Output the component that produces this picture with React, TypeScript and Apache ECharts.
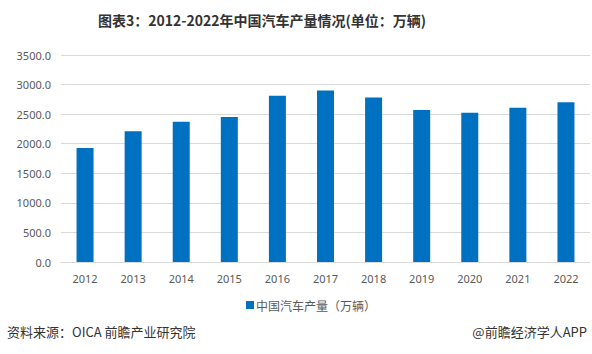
import React, { useEffect, useRef } from "react";
import * as echarts from "echarts";

const categories = ["2012", "2013", "2014", "2015", "2016", "2017", "2018", "2019", "2020", "2021", "2022"];
const production = [1927.2, 2211.7, 2372.3, 2450.3, 2811.9, 2901.5, 2780.9, 2572.1, 2522.5, 2608.2, 2702.1];
const seriesName = "中国汽车产量（万辆）";
const titleText = "图表3：2012-2022年中国汽车产量情况(单位：万辆)";
const sourceText = "资料来源：OICA 前瞻产业研究院";
const creditText = "@前瞻经济学人APP";

export default function App() {
  const ref = useRef<HTMLDivElement>(null);
  useEffect(() => {
    if (!ref.current) return;
    const chart = echarts.init(ref.current, null, { renderer: "svg" });
    chart.setOption({
      animation: false,
      backgroundColor: "#ffffff",
      title: {
        text: titleText,
        left: 93,
        top: 8,
        textStyle: { fontSize: 14, fontWeight: "bold", color: "#333333", fontFamily: "'Noto Sans CJK SC', sans-serif" },
      },
      grid: { left: 61, right: 2, top: 55, bottom: 92 },
      legend: {
        data: [seriesName],
        left: 241,
        top: 294,
        icon: "rect",
        itemWidth: 8,
        itemHeight: 8,
        itemGap: 4,
        textStyle: { fontSize: 12, color: "#595959", fontFamily: "'Noto Sans CJK SC', sans-serif", padding: [0, 0, 0, -3] },
      },
      xAxis: {
        type: "category",
        data: categories,
        axisLine: { lineStyle: { color: "#d9d9d9" } },
        axisTick: { show: false },
        axisLabel: { color: "#595959", fontSize: 11, margin: 11, fontFamily: "'Noto Sans', sans-serif" },
      },
      yAxis: {
        type: "value",
        min: 0,
        max: 3500,
        interval: 500,
        axisLine: { show: false },
        axisTick: { show: false },
        splitLine: { lineStyle: { color: "#d9d9d9" } },
        axisLabel: {
          color: "#595959",
          fontSize: 11,
          margin: 10,
          fontFamily: "'Noto Sans', sans-serif",
          formatter: (v: number) => v.toFixed(1),
        },
      },
      series: [
        {
          name: seriesName,
          type: "bar",
          data: production,
          barWidth: 17,
          itemStyle: { color: "#0070c0" },
        },
      ],
      graphic: [
        {
          type: "text",
          left: 7,
          top: 325,
          style: { text: sourceText, fontSize: 13, fill: "#333333", fontFamily: "'Noto Sans CJK SC', sans-serif" },
        },
        {
          type: "text",
          right: 5,
          top: 325,
          style: { text: creditText, fontSize: 13, fill: "#333333", fontFamily: "'Noto Sans CJK SC', sans-serif" },
        },
      ],
    });
    return () => chart.dispose();
  }, []);
  return <div ref={ref} style={{ width: 592, height: 354, position: "fixed", left: 0, top: 0 }} />;
}
